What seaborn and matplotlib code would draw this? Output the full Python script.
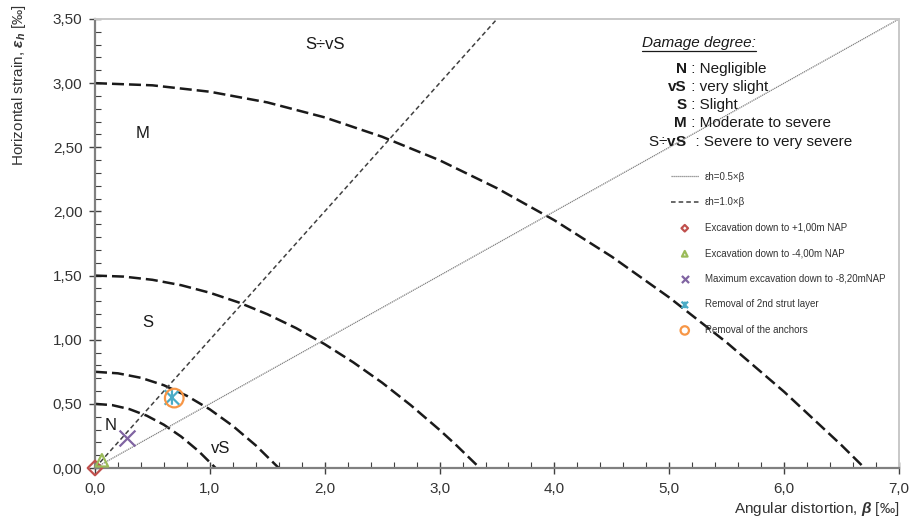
import matplotlib
matplotlib.use("Agg")
import matplotlib.pyplot as plt
import seaborn as sns
import pandas as pd
from matplotlib.ticker import MultipleLocator, FuncFormatter
from matplotlib.path import Path
from matplotlib.lines import Line2D

# ---------------- data ----------------
# damage-degree boundary curves (beta, eps_h)
curve_N_beta = [0.0, 0.15, 0.30, 0.45, 0.60, 0.75, 0.90, 1.05]
curve_N_eps = [0.50, 0.49, 0.459, 0.408, 0.337, 0.245, 0.133, 0.0]

curve_vS_beta = [0.0, 0.2, 0.4, 0.6, 0.8, 1.0, 1.2, 1.4, 1.6]
curve_vS_eps = [0.75, 0.738, 0.703, 0.645, 0.5625, 0.457, 0.328, 0.176, 0.0]

curve_S_beta = [0.0, 0.25, 0.5, 0.75, 1.0, 1.25, 1.5, 1.75, 2.0, 2.25, 2.5, 2.75, 3.0, 3.15, 3.35]
curve_S_eps = [1.50, 1.492, 1.467, 1.425, 1.366, 1.291, 1.199, 1.091, 0.965, 0.823, 0.665, 0.489, 0.297, 0.174, 0.0]

curve_M_beta = [0.0, 0.5, 1.0, 1.5, 2.0, 2.5, 3.0, 3.5, 4.0, 4.5, 5.0, 5.5, 6.0, 6.5, 6.7]
curve_M_eps = [3.00, 2.983, 2.933, 2.850, 2.733, 2.582, 2.399, 2.181, 1.931, 1.647, 1.329, 0.978, 0.594, 0.177, 0.0]

# reference lines
line05_beta = [0.0, 7.0]
line05_eps = [0.0, 3.5]
line10_beta = [0.0, 3.5]
line10_eps = [0.0, 3.5]

# measurement points
point_labels = ["Excavation down to +1,00m NAP",
                "Excavation down to -4,00m NAP",
                "Maximum excavation down to -8,20mNAP",
                "Removal of 2nd strut layer",
                "Removal of the anchors"]
point_beta = [0.0, 0.06, 0.28, 0.67, 0.69]
point_eps = [0.0, 0.06, 0.235, 0.55, 0.545]

zone_labels = ["S÷vS", "M", "S", "N", "vS"]
damage_abbr = ["N", "vS", "S", "M", "S÷vS"]
damage_desc = ["Negligible", "very slight", "Slight", "Moderate to severe", "Severe to very severe"]

# ---------------- style ----------------
sns.set_style("ticks")
plt.rcParams["font.family"] = ["Liberation Sans", "DejaVu Sans"]
plt.rcParams["mathtext.fontset"] = "custom"
plt.rcParams["mathtext.rm"] = "Liberation Sans"
plt.rcParams["mathtext.it"] = "Liberation Sans:italic"
plt.rcParams["mathtext.bf"] = "Liberation Sans:bold"
plt.rcParams["mathtext.bfit"] = "Liberation Sans:italic:bold"

fig = plt.figure(figsize=(9.2, 5.22), dpi=100)
ax = fig.add_axes([95 / 920, 54 / 522, 804 / 920, 449 / 522])

# boundary curves
dash_style = (0, (4.8, 2.0))
for bx, by in [(curve_N_beta, curve_N_eps), (curve_vS_beta, curve_vS_eps),
               (curve_S_beta, curve_S_eps), (curve_M_beta, curve_M_eps)]:
    sns.lineplot(x=bx, y=by, ax=ax, color="#1a1a1a", linewidth=1.8,
                 linestyle=dash_style, legend=False, sort=False)

sns.lineplot(x=line05_beta, y=line05_eps, ax=ax, color="#808080", linewidth=0.9,
             linestyle=(0, (1, 0.6)), label="εh=0.5×β", sort=False)
sns.lineplot(x=line10_beta, y=line10_eps, ax=ax, color="#404040", linewidth=1.1,
             linestyle=(0, (3, 2)), label="εh=1.0×β", sort=False)

# star marker (x with vertical bar)
star = Path([(-1, -1), (1, 1), (-1, 1), (1, -1), (0, 1), (0, -1)],
            [Path.MOVETO, Path.LINETO, Path.MOVETO, Path.LINETO, Path.MOVETO, Path.LINETO])

point_colors = ["#C0504D", "#9BBB59", "#8064A2", "#4BACC6", "#F79646"]
point_markers = ["D", "^", "x", star, "o"]
point_sizes = [55, 80, 130, 110, 180]
for i in range(len(point_labels)):
    m = point_markers[i]
    if isinstance(m, str) and m == "x":
        sns.scatterplot(x=[point_beta[i]], y=[point_eps[i]], ax=ax, marker=m,
                        s=point_sizes[i], color=point_colors[i], linewidth=1.6,
                        label=point_labels[i], clip_on=False, zorder=5)
    else:
        sns.scatterplot(x=[point_beta[i]], y=[point_eps[i]], ax=ax, marker=m,
                        s=point_sizes[i], facecolor="none", edgecolor=point_colors[i],
                        color=point_colors[i], linewidth=1.6,
                        label=point_labels[i], clip_on=False, zorder=5)

# axes
ax.set_xlim(0, 7.0)
ax.set_ylim(0, 3.5)
ax.xaxis.set_major_locator(MultipleLocator(1.0))
ax.xaxis.set_minor_locator(MultipleLocator(0.2))
ax.yaxis.set_major_locator(MultipleLocator(0.5))
ax.yaxis.set_minor_locator(MultipleLocator(0.1))
ax.xaxis.set_major_formatter(FuncFormatter(lambda v, p: f"{v:.1f}".replace(".", ",")))
ax.yaxis.set_major_formatter(FuncFormatter(lambda v, p: f"{v:.2f}".replace(".", ",")))
ax.tick_params(which="major", direction="inout", length=8, width=1.0, color="#404040",
               labelsize=11, labelcolor="#333333")
ax.tick_params(axis="x", which="major", pad=6)
ax.tick_params(axis="y", which="major", pad=5)
ax.tick_params(which="minor", direction="in", length=4, width=0.8, color="#404040")
for s in ["left", "bottom"]:
    ax.spines[s].set_color("#808080")
    ax.spines[s].set_linewidth(1.6)
for s in ["top", "right"]:
    ax.spines[s].set_color("#c8c8c8")
    ax.spines[s].set_linewidth(1.4)
    ax.spines[s].set_visible(True)

ax.set_xlabel("Angular distortion, $\\mathbfit{\\beta}$ [‰]", fontsize=11, color="#333333",
              loc="right")
ax.set_ylabel("Horizontal strain, $\\mathbfit{\\varepsilon_h}$ [‰]", fontsize=11,
              color="#333333", loc="top")
ax.xaxis.set_label_coords(1.0, -0.072)
ax.yaxis.set_label_coords(-0.083, 1.032)

# zone labels
zone_pos = [(2.0, 3.30), (0.41, 2.61), (0.46, 1.135), (0.14, 0.335), (1.09, 0.155)]
for t, (zx, zy) in zip(zone_labels, zone_pos):
    ax.text(zx, zy, t, ha="center", va="center", fontsize=12, color="#1a1a1a")

# damage degree key
title = ax.text(5.26, 3.31, "Damage degree:", ha="center", va="center", fontsize=11,
                style="italic", color="#1a1a1a")
key_y = [3.11, 2.97, 2.83, 2.69, 2.545]
for abbr, desc, ky in zip(damage_abbr, damage_desc, key_y):
    if abbr == "S÷vS":
        ax.text(5.15, ky, "S÷$\\mathbf{vS}$", ha="right", va="center", fontsize=11, color="#1a1a1a")
    else:
        ax.text(5.15, ky, abbr, ha="right", va="center", fontsize=11, fontweight="bold",
                color="#1a1a1a")
    ax.text(5.15, ky, " : " + desc if abbr != "S÷vS" else "  : " + desc, ha="left",
            va="center", fontsize=11, color="#1a1a1a")

# legend
handles, labels = ax.get_legend_handles_labels()
leg = ax.legend(handles, labels, loc="upper left", bbox_to_anchor=(0.716, 0.66),
                frameon=False, fontsize=7, handlelength=2.9, handletextpad=0.6,
                labelspacing=1.6, borderpad=0, borderaxespad=0, markerscale=0.45)
for t in leg.get_texts():
    t.set_color("#333333")

# underline for key title
fig.canvas.draw()
bb = title.get_window_extent(fig.canvas.get_renderer())
inv = fig.transFigure.inverted()
(x0, y0), (x1, _) = inv.transform([(bb.x0, bb.y0 - 1), (bb.x1, bb.y0 - 1)])
fig.add_artist(Line2D([x0, x1], [y0, y0], color="#1a1a1a", linewidth=0.9))

fig.savefig("out.png", dpi=100)
